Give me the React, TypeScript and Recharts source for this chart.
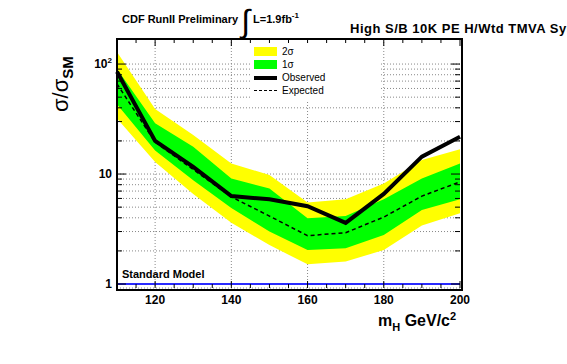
import React from "react";
import {
  ComposedChart,
  Area,
  Line,
  XAxis,
  YAxis,
  CartesianGrid,
  ReferenceLine,
} from "recharts";

// Higgs mass points (GeV/c^2)
const masses = [110, 120, 130, 140, 150, 160, 170, 180, 190, 200];
// limits on sigma / sigma_SM
const observed = [85, 20, 11.6, 6.3, 5.9, 5.1, 3.6, 6.6, 14.4, 21.8];
const expected = [66, 19.5, 11, 6.2, 4.15, 2.75, 2.93, 4.06, 6.3, 8.5];
const band1Lo = [43, 16.4, 8.8, 4.9, 3.0, 2.04, 2.11, 2.79, 4.7, 5.9];
const band1Hi = [90, 29, 17.7, 9.1, 7.4, 3.96, 4.15, 5.9, 9.1, 12.5];
const band2Lo = [32, 12.9, 6.6, 3.6, 2.26, 1.51, 1.6, 2.04, 3.4, 4.4];
const band2Hi = [129, 39, 22.6, 12.5, 9.8, 5.5, 5.9, 8.2, 13.4, 16.8];

const xDomain = [110, 200];
const xTicks = [110, 115, 120, 125, 130, 135, 140, 145, 150, 155, 160, 165, 170, 175, 180, 185, 190, 195, 200];
const xLabels = [120, 140, 160, 180, 200];
const xGrid = [120, 140, 160, 180];
const yTicks = [1, 2, 3, 4, 5, 6, 7, 8, 9, 10, 20, 30, 40, 50, 60, 70, 80, 90, 100];
const yLabels: Record<number, string> = { 1: "1", 10: "10", 100: "10²" };

const data = masses.map((m, i) => ({
  m,
  obs: observed[i],
  exp: expected[i],
  s1: [band1Lo[i], band1Hi[i]],
  s2: [band2Lo[i], band2Hi[i]],
}));

const W = 567;
const H = 364;
const LEFT = 117;
const TOP = 39;
const RIGHT = 460;
const BOTTOM = 288;
const PW = RIGHT - LEFT;
const PH = BOTTOM - TOP;

const FONT = "'Liberation Sans', Arial, sans-serif";

function YTick(props: any) {
  const { x, y, payload } = props;
  const v = payload.value;
  const major = yLabels[v] !== undefined;
  const len = major ? 9 : 5;
  return (
    <g>
      <line x1={x} x2={x + len} y1={y} y2={y} stroke="#000" />
      <line x1={x + PW} x2={x + PW - len} y1={y} y2={y} stroke="#000" />
      {major && (
        <text
          x={x - 5}
          y={y + 4}
          textAnchor="end"
          fontFamily={FONT}
          fontWeight="bold"
          fontSize={12}
          fill="#000"
        >
          {v === 100 ? (
            <>
              10<tspan dy={-5} fontSize={8}>2</tspan>
            </>
          ) : (
            yLabels[v]
          )}
        </text>
      )}
    </g>
  );
}

function XTick(props: any) {
  const { x, y, payload } = props;
  const v = payload.value;
  const major = xLabels.includes(v);
  const len = major ? 7 : 4;
  return (
    <g>
      <line x1={x} x2={x} y1={y} y2={y - len} stroke="#000" />
      <line x1={x} x2={x} y1={y - PH} y2={y - PH + len} stroke="#000" />
      {major && (
        <text
          x={x}
          y={y + 16}
          textAnchor="middle"
          fontFamily={FONT}
          fontWeight="bold"
          fontSize={12}
          fill="#000"
        >
          {v}
        </text>
      )}
    </g>
  );
}

// vertical grid only at the labelled masses
function gridX({ xAxis, offset }: any) {
  if (xAxis && typeof xAxis.scale === "function") {
    return xGrid.map((m) => xAxis.scale(m));
  }
  return xGrid.map(
    (m) => offset.left + ((m - xDomain[0]) / (xDomain[1] - xDomain[0])) * offset.width
  );
}

export default function App() {
  return (
    <div
      style={{
        position: "absolute",
        left: 0,
        top: 0,
        width: W,
        height: H,
        overflow: "hidden",
        background: "#fff",
        fontFamily: FONT,
      }}
    >
      <ComposedChart
        width={W}
        height={H}
        data={data}
        margin={{ top: TOP, right: W - RIGHT, left: LEFT - 30, bottom: H - BOTTOM - 30 }}
      >
        <CartesianGrid stroke="#888" strokeDasharray="1 2" verticalCoordinatesGenerator={gridX} />
        <XAxis
          dataKey="m"
          type="number"
          domain={xDomain}
          ticks={xTicks}
          interval={0}
          height={30}
          tickSize={0}
          tickMargin={0}
          axisLine={false}
          tickLine={false}
          tick={<XTick />}
        />
        <YAxis
          scale="log"
          type="number"
          domain={[0.92, 169]}
          allowDataOverflow
          ticks={yTicks}
          interval={0}
          width={30}
          tickSize={0}
          tickMargin={0}
          axisLine={false}
          tickLine={false}
          tick={<YTick />}
        />
        <Area
          dataKey="s2"
          type="linear"
          fill="#ffff00"
          fillOpacity={1}
          stroke="none"
          isAnimationActive={false}
        />
        <Area
          dataKey="s1"
          type="linear"
          fill="#00ff00"
          fillOpacity={1}
          stroke="none"
          isAnimationActive={false}
        />
        <ReferenceLine y={1} stroke="#2a2aff" strokeWidth={2} />
        <Line
          dataKey="exp"
          type="linear"
          stroke="#000"
          strokeWidth={1.5}
          strokeDasharray="4 3"
          dot={false}
          isAnimationActive={false}
        />
        <Line
          dataKey="obs"
          type="linear"
          stroke="#000"
          strokeWidth={4}
          dot={false}
          isAnimationActive={false}
        />
      </ComposedChart>

      {/* frame */}
      <div
        style={{
          position: "absolute",
          left: LEFT - 1,
          top: TOP - 1,
          width: PW,
          height: PH,
          border: "2px solid #000",
          pointerEvents: "none",
        }}
      />

      {/* legend */}
      <div
        style={{
          position: "absolute",
          left: 251,
          top: 43,
          width: 128,
          height: 57,
          background: "#fff",
          fontSize: 10,
          lineHeight: "13px",
        }}
      >
        {[
          { label: "2σ", kind: "yellow" },
          { label: "1σ", kind: "green" },
          { label: "Observed", kind: "obs" },
          { label: "Expected", kind: "exp" },
        ].map((r, i) => (
          <div key={i} style={{ position: "absolute", left: 0, top: 2 + i * 13, height: 13, width: 128 }}>
            {r.kind === "yellow" || r.kind === "green" ? (
              <div
                style={{
                  position: "absolute",
                  left: 3,
                  top: 2,
                  width: 23,
                  height: 9,
                  background: r.kind === "yellow" ? "#ffff00" : "#00ff00",
                }}
              />
            ) : (
              <div
                style={{
                  position: "absolute",
                  left: 3,
                  top: r.kind === "obs" ? 5 : 6,
                  width: 23,
                  height: 0,
                  borderTop: r.kind === "obs" ? "4px solid #000" : "1.5px dashed #000",
                }}
              />
            )}
            <span style={{ position: "absolute", left: 31, top: 0 }}>{r.label}</span>
          </div>
        ))}
      </div>

      {/* titles */}
      <div
        style={{
          position: "absolute",
          left: 122,
          top: 11,
          fontSize: 11,
          fontWeight: "bold",
          whiteSpace: "nowrap",
        }}
      >
        CDF RunII Preliminary{" "}
        <span style={{ fontSize: 32, fontWeight: "normal", verticalAlign: -9, lineHeight: "11px" }}>∫</span>
        {" "}L=1.9fb<sup style={{ fontSize: 8 }}>-1</sup>
      </div>
      <div
        style={{
          position: "absolute",
          left: 350,
          top: 21,
          fontSize: 13,
          letterSpacing: 0.5,
          fontWeight: "bold",
          whiteSpace: "nowrap",
        }}
      >
        High S/B 10K PE H/Wtd TMVA Syst
      </div>

      {/* y axis title */}
      <div
        style={{
          position: "absolute",
          left: 48,
          top: 112,
          transformOrigin: "0 0",
          transform: "rotate(-90deg)",
          fontSize: 22,
          whiteSpace: "nowrap",
          lineHeight: "26px",
        }}
      >
        σ/σ<sub style={{ fontSize: 15, fontWeight: "bold" }}>SM</sub>
      </div>

      {/* x axis title */}
      <div
        style={{
          position: "absolute",
          left: 378,
          top: 310,
          fontSize: 16,
          fontWeight: "bold",
          whiteSpace: "nowrap",
        }}
      >
        m<sub style={{ fontSize: 11 }}>H</sub> GeV/c<sup style={{ fontSize: 11 }}>2</sup>
      </div>

      {/* standard model label */}
      <div
        style={{
          position: "absolute",
          left: 122,
          top: 268,
          fontSize: 11,
          fontWeight: "bold",
          whiteSpace: "nowrap",
        }}
      >
        Standard Model
      </div>
    </div>
  );
}
